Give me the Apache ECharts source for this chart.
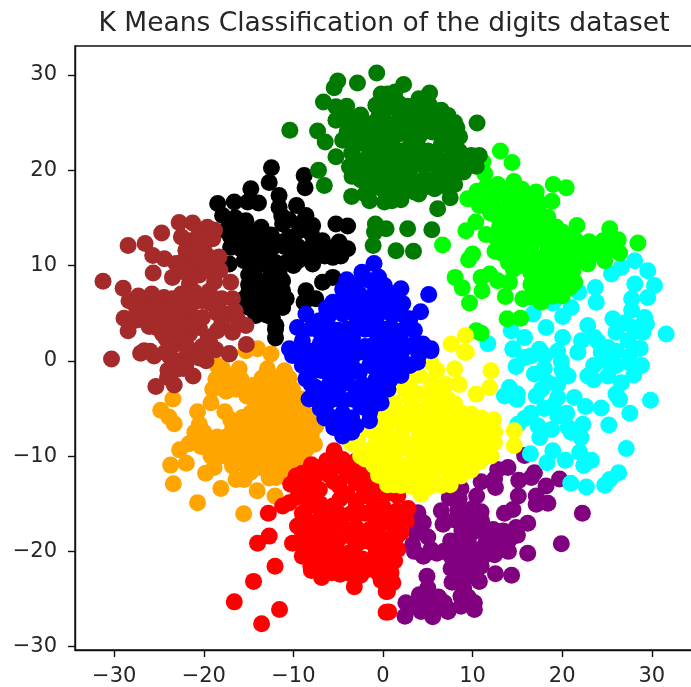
<!DOCTYPE html>
<html>
<head>
<meta charset="utf-8">
<style>html,body{margin:0;padding:0;background:#fff;overflow:hidden}#c{width:691px;height:687px}</style>
<script src="https://cdn.jsdelivr.net/npm/echarts@6/dist/echarts.min.js"></script>
</head>
<body>
<div id="c"></div>
<script>
const chartTitle = "K Means Classification of the digits dataset";
const xTicks = [-30,-20,-10,0,10,20,30];
const yTicks = [-30,-20,-10,0,10,20,30];
const orange = [[-14,1.25],[-12.5,.7],[-15.3,1.05],[-17.9,-.85],[-16.05,-.85],[-12.9,-.85],[-11,-1.05],[-18.65,-1.95],[-16.4,-3],[-14.55,-2.6],[-11.95,-3],[-10.1,-3],[-19.2,-4.4],[-17.65,-5.35],[-20.7,-5.35],[-23.45,-4],[-24.8,-5.2],[-23.9,-5.9],[-23.3,-6.6],[-20.5,-6.65],[-15.7,-5.95],[-14.2,-5.05],[-11.6,-5.05],[-9,-5.05],[-7.5,-6.85],[-9.9,-6.85],[-12.3,-7.2],[-15.5,-7.9],[-16.8,-7.2],[-19.75,-8.2],[-18.3,-9.3],[-16.8,-8.95],[-21.65,-8.7],[-22.7,-9.35],[-23.7,-10.95],[-21.95,-10.75],[-18.85,-11.2],[-19.8,-11.8],[-23.4,-12.9],[-18.1,-13.4],[-16.8,-11.05],[-15.5,-10.85],[-16.4,-12.45],[-15.5,-12.45],[-14.2,-9.8],[-13.65,-11.2],[-11.95,-12.25],[-11.6,-10],[-9.35,-10.3],[-7.65,-8.75],[-10.1,-8.9],[-20.7,-14.9],[-14.05,-13.65],[-12.05,-14.2],[-15.55,-16.05],[-13,-6],[-10.5,-4],[-13.5,-8.5],[-12.5,-9.5],[-10.5,-6],[-17.5,-1.8],[-14.5,-4],[-13,-4],[-13,-3],[-11,-2.5],[-12.5,-5.5],[-10.5,-5.5],[-9,-4],[-13.5,-7],[-11,-7.5],[-8.5,-8],[-14,-8.5],[-12,-8.3],[-9,-9.2],[-10.5,-10.2],[-13,-10.5],[-12.5,-11.5],[-10.8,-11.2],[-17.5,-8],[-20,-7.5],[-17,-6.2],[-15,-6.8],[-19.5,-9.2],[-16.5,-7.8],[-18.5,-.5],[-16.8,-1.7],[-15.8,-2],[-13.5,-1.8],[-12,-1.8],[-10.5,-1.8],[-19,-3],[-17.5,-3.2],[-15.2,-3.7],[-13.7,-3.3],[-11.8,-3.9],[-10,-4.5],[-14.8,-5.5],[-13.5,-5],[-11,-4.3],[-9.5,-5.8],[-8.2,-5.8],[-13.5,-6.2],[-12,-6.3],[-10.8,-6.8],[-9,-7.2],[-15.7,-7],[-14.5,-7.6],[-13,-8],[-10.5,-8],[-9.5,-7.8],[-8,-7.8],[-15,-8.7],[-15.2,-9.5],[-12.5,-8.8],[-11,-9.3],[-8.6,-9.3],[-13.8,-10.6],[-12,-10.8],[-10,-11],[-8.8,-11.2],[-12.7,-12.3],[-10.8,-12.2],[-14.8,-11.7],[-18.5,-8],[-20.7,-8.5],[-19.2,-10],[-17.7,-10],[-16.3,-9.5],[-20.3,-9],[-21,-7.5]];
const black = [[-12.45,20.25],[-12.7,18.7],[-8.8,19.45],[-8.7,18.15],[-14.75,18.05],[-11.6,17.35],[-11.6,16.1],[-18.45,16.5],[-16.6,16.65],[-15.1,16.65],[-13.9,16.55],[-9.65,16.3],[-8.6,15.25],[-7.85,14.2],[-5.25,14.35],[-3.95,14.15],[-17.9,15.25],[-17.55,13.65],[-15.3,14.7],[-13.6,14],[-11.2,14.35],[-9.35,13.65],[-6.75,12.6],[-4.9,12.45],[-3.95,11.75],[-5.6,10.85],[-7.85,10.15],[-17,11.9],[-17.15,10.15],[-14.55,12.25],[-12.35,11.9],[-10.1,11.2],[-14.2,9.8],[-11.6,9.1],[-5.6,8.75],[-6.75,8.25],[-8.6,7.35],[-7.5,6.5],[-8.8,6.15],[-14.95,7.35],[-11.2,7.35],[-13.45,7],[-14.95,5.6],[-11.2,5.6],[-14.2,4.75],[-12.35,4.55],[-11.95,3.7],[-12,2.4],[-13.05,10.15],[-16,13],[-12.5,13],[-8,12],[-6,11.8],[-13,8.3],[-16.5,15],[-17,13],[-15.5,12.5],[-14,13],[-11.8,12.5],[-10.5,13],[-9.5,12],[-8,13.3],[-6.5,11],[-8.8,10.8],[-14.5,10.8],[-12.5,9],[-15,9],[-13,6],[-12,8],[-14,6.5],[-13,4.8],[-15.5,6.5],[-9,14.5],[-14,8.5],[-11.5,6.5],[-5,11.5],[-12.5,13.2],[-13,11],[-16.8,14.3],[-15.8,13.8],[-14.8,13.5],[-13,12.3],[-11,12],[-10.8,10.3],[-13.8,11.3],[-15.5,10.5],[-15.8,11.7],[-12,10.3],[-10,10],[-9.5,10.5],[-7,11.3],[-8,11],[-4.7,11],[-15,8],[-13,7.8],[-12,7],[-13.3,5.6],[-12.5,5.6],[-10.8,6.5],[-12,3.3],[-11.8,6],[-14.7,6.2],[-11.2,8.4],[-14,10],[-16,12.5],[-10.5,14.8],[-11.3,15.2]];
const purple = [[15.8,-9.95],[12.8,-11.4],[13.95,-11.2],[16.9,-11.75],[12.45,-12.4],[10.95,-12.7],[12.55,-13.3],[15.15,-12.55],[16.55,-12.25],[19.7,-12.4],[18.2,-13.15],[10.45,-14.2],[15.1,-14.2],[17.1,-14.2],[18.4,-14.95],[17.1,-15.05],[8.7,-13.4],[7.4,-14.4],[8.35,-15.6],[10.95,-15.85],[14.5,-15.6],[13.55,-16],[22.25,-16],[3.9,-15.95],[6.5,-15.75],[6.7,-17.15],[16.15,-17.05],[14.85,-17.5],[13.4,-17.85],[11.15,-17.85],[9.45,-17],[3.7,-18.05],[7.55,-18.9],[14.1,-18.75],[12.65,-19.45],[19.9,-19.2],[16.15,-20.2],[3.3,-19.3],[5.35,-19.8],[7.6,-20.5],[10.2,-19.8],[12.45,-20.35],[10.95,-21.55],[12.55,-22.35],[14.35,-22.5],[4.9,-22.6],[7.7,-23.25],[9.45,-22.6],[10.75,-23.15],[5,-23.85],[4.05,-24.55],[2.55,-25.4],[8.7,-24.7],[10.2,-25.4],[10.2,-26.1],[2.45,-26.8],[4.25,-26.3],[5.55,-26.85],[5.95,-25.75],[7.25,-26.3],[8.7,-25.75],[6.85,-25.4],[9.3,-18.5],[9.5,-21],[4.5,-17],[8.8,-17.8],[3.5,-17],[5,-18.5],[3.5,-20],[6.8,-20],[9,-19.5],[8.5,-20],[9.5,-18.8],[10,-18],[8.5,-21.5],[10,-21],[11.2,-20.5],[8.5,-23],[9,-23.8],[10.3,-22.5],[7,-25.8],[5,-25.5],[3.5,-25.8],[14,-20],[13,-19],[15,-18.3],[11.5,-19],[9.5,-16],[10,-15.5],[8.5,-14.5],[9.5,-24.8],[6,-20.2],[4.5,-20.5],[8,-16.7],[11,-16.8],[12.3,-17.7],[7.6,-21.8],[6.2,-24.8]];
const cyan = [[11.7,1.8],[28.1,10.5],[29.55,9.45],[25.5,9.1],[26.6,9.8],[30.3,7.9],[28.1,8.05],[29.55,6.65],[27.75,6.5],[23.7,7.7],[21.85,7.2],[23.8,6.15],[18.95,6.05],[16.75,4.9],[21,5.6],[20.05,4.65],[25.65,4.4],[27.75,5.3],[29.2,4.55],[29.4,3.85],[31.6,2.8],[18.2,3.5],[22.85,3.7],[20.05,2.45],[14.3,3.15],[15.8,2.45],[14.5,1.2],[17.45,1.2],[23.6,2.45],[22.15,2.1],[25.1,1.4],[27.35,2.1],[28.45,3.15],[14.85,-.6],[14.5,1.25],[15.8,.35],[18.05,.55],[19.9,-.05],[21.75,.9],[24.35,.9],[28.85,-.5],[26.6,-2.3],[16.9,-1.4],[18.4,-2.3],[20.65,-1.6],[22.85,-1.6],[25.1,-1.6],[29.85,-4.15],[14.1,-2.8],[13.55,-3.7],[14.95,-4.05],[17.1,-3.7],[19.5,-3.85],[21.35,-3.85],[22.6,-4.8],[24.35,-4.95],[26.4,-4.05],[27.55,-5.5],[15.8,-6.05],[15.05,-6.65],[17.3,-6.85],[19.5,-5.8],[22.3,-6.65],[25.2,-6.75],[20.65,-7],[18.8,-7.2],[17.5,-8.05],[22.1,-8.05],[27.15,-9.2],[16.45,-9.75],[18.95,-9.45],[18.3,-10.7],[20.35,-10.45],[21.95,-9.6],[23.25,-10.45],[22.4,-11],[26.3,-11.75],[25.3,-12.45],[24.75,-13.05],[20.95,-12.85],[22.7,-13.25],[19.5,1],[20,-1],[19.5,-2.5],[23.5,-.5],[24.8,0],[26,-.5],[27.5,-.2],[26,1],[27.5,.5],[28,-1.5],[26,-3.5],[18,-.8],[17.7,-3],[19,-4.7],[20.5,-5.5],[21,-7.5],[18,-5],[23.5,-2],[24,2],[27,4],[28,3.5],[26,3],[28.7,1.3],[29,3],[16.5,.5],[15,-3.5],[16.5,-5.5]];
const lime = [[13.1,22],[14.4,20.8],[11.15,20.85],[11.35,19.65],[14.6,18.8],[11.5,18.25],[19,18.5],[20.45,18.15],[17.1,17.7],[18.85,16.75],[9.45,17],[10.75,16.3],[12.65,17.5],[14.3,16.5],[12.85,15.05],[10.35,14.55],[9.25,13.65],[11.5,13.25],[6.65,12.15],[16.15,16.1],[18.4,15.05],[15.45,14],[19.35,14],[21.65,14.2],[25.3,13.85],[21.55,12.6],[24.55,12.6],[26.25,12.7],[28.45,12.35],[26.4,11.3],[23.45,11.2],[22.85,10.15],[24.75,10.5],[13.2,11.3],[15.8,11.55],[18.4,11.9],[20.65,11.2],[10,11.2],[9.55,10.6],[8.05,8.75],[8.85,7.65],[9.65,6.05],[14.55,9.6],[11.9,9.1],[10.95,8.75],[12.8,8.4],[14.1,8.25],[11.05,7.35],[13.65,6.75],[15.6,6.5],[16.9,8.05],[18.4,8.05],[17.65,6.15],[19.15,7],[21.2,9.45],[21.4,8.25],[20.85,7.7],[19.7,8.75],[17.65,9.8],[13.85,4.4],[15.35,4.45],[10.4,3.15],[10.95,2.9],[16.55,13.65],[19.15,12.6],[14,13],[17.5,13],[14.5,15],[17,10.5],[12.5,16],[14,17],[15.5,17],[17.5,16.5],[13,14],[14.5,14.5],[16,15],[17.5,14.8],[19,13],[13.5,12.5],[15,12.5],[16.5,12],[18,12.8],[20,12.5],[14.8,11],[16.2,10.6],[17.8,10.8],[19.5,11],[21,13],[12.5,13],[22,11.5],[16.5,9.2],[18.5,9.5],[20,9.8],[19,6.8],[17,7],[20,7.5],[25,11.5],[12.8,18.5],[10.5,17.8],[13.5,15.5],[15.5,13],[17,14],[18.5,14],[13.8,17.8],[15.5,18],[16,17.5],[12,15.5],[11.7,16.8],[15,16],[16.8,15.7],[13.5,13.7],[15,13.3],[16.5,14.5],[18.2,13.2],[20,13.5],[12.5,11.5],[14.2,11.5],[14,10.3],[15.5,10],[17.5,9],[19,10],[20.5,10.3],[21.8,10.5],[20.8,12],[23,12.5],[23.5,12.2],[16.5,8],[19,8.2],[20,6.8],[18,7],[16.5,6.7]];
const red = [[-5.45,-9.45],[-8,-10.9],[-9.7,-12.1],[-10.3,-12.95],[-7.1,-13.5],[-8.8,-13.15],[-10.45,-14.9],[-11.2,-15.25],[-12.8,-16],[-8.2,-15.25],[-9.55,-17.35],[-12.7,-18.4],[-14,-19.15],[-10.1,-19.15],[-8.3,-20.5],[-8.05,-21.55],[-6.85,-22.75],[-5.75,-22.25],[-12.05,-21.55],[-14.45,-23.15],[-16.6,-25.3],[-11.55,-26.1],[-13.55,-27.6],[-3.2,-23.7],[-.2,-23.05],[.35,-24.2],[.35,-26.4],[-4.5,-10.35],[-2.65,-11.4],[-4.9,-13.15],[-1.5,-13.15],[-5.6,-15.25],[-3,-14.9],[-.05,-15.25],[-7.1,-17.35],[-4.5,-17.35],[-1.5,-17.7],[-6.75,-19.8],[-3.75,-20.15],[-.8,-20.15],[-4.5,-21.9],[-1.7,-21.9],[-3,-21.9],[.7,-13.85],[1.65,-14.2],[2.6,-16.8],[2,-18.05],[1.65,-19.8],[.9,-22.25],[1.1,-23.3],[.5,-24.2],[.65,-26.35],[.55,-15.95],[.55,-19.45],[-6,-12],[-3,-12.8],[-2,-16],[-6,-18.5],[-7.5,-12],[-5.5,-11.2],[-4,-12],[-1,-12],[-7,-16.5],[-8,-18.5],[-5.5,-16.8],[-3.5,-16],[-1,-14],[.8,-17],[-7.5,-20],[-5.5,-20.5],[-2.5,-19],[-.5,-18.5],[1,-18.5],[-7.5,-21.8],[-6,-22],[-2.7,-18],[-5,-18.8],[-3.5,-18.5],[.5,-21],[-1,-21.5],[2.8,-15.5],[-9,-16],[-7,-15],[-4,-14],[-3,-17.5],[0,-16.5],[-6.3,-10.5],[-7,-11.2],[-9,-11.8],[-8,-12.8],[-5.5,-12.7],[-4,-10.8],[-3,-10.5],[-2,-12],[-.5,-13.5],[-9.5,-14.3],[-8.3,-14],[-4.8,-14.5],[-2.2,-14.2],[-1,-15.3],[1.5,-15.8],[-8.8,-16.5],[-8,-17],[-6.5,-15.7],[-5,-16],[-2.8,-16],[-.8,-16.8],[1.5,-17],[-9,-18],[-7.5,-18.3],[-6,-17.5],[-4,-18],[-.5,-17.5],[1.5,-18.5],[-8.7,-19.5],[-7.2,-19.2],[-5.3,-19.5],[-3,-19.3],[-1.5,-19],[.8,-20],[-9,-20.5],[-7,-21],[-5.3,-21.3],[-3.8,-21],[-2.3,-20.8],[-.3,-20.8],[1.3,-21],[-8,-22],[-6.8,-22],[-4.8,-22.4],[-2.5,-22.5],[-.5,-22.3],[-3.5,-22.4],[.8,-23]];
const yellow = [[9.2,2.65],[7.6,1.75],[9.3,.9],[9.1,.9],[5.35,-.2],[8,-.85],[12.05,-1.05],[11.9,-2.8],[10.4,-3.5],[5.35,-2.25],[2.4,-3],[1.25,-4.4],[-.2,-5.8],[3.5,-5.05],[7.25,-4.05],[9.85,-5.6],[12.35,-6.2],[14.65,-7.35],[14.65,-8.9],[12.45,-7.5],[12.05,-10],[10.8,-7.5],[8.35,-6.5],[5.35,-7.55],[2,-7.9],[-.2,-9.6],[.55,-11.75],[2,-13.1],[4.25,-14],[6.5,-13.1],[8.7,-12.1],[9.5,-11.4],[3.5,-10.35],[7.25,-10],[11,-8.6],[12.45,-8.6],[-3.55,-8.65],[-1.5,-7.2],[-1.5,-9.6],[0,-12.1],[-.05,-6.15],[5,-12],[2,-11],[8,-9],[5,-5],[3,-1.5],[6,-1],[4,-3.5],[6,-3.3],[8.5,-2.5],[1.5,-5.8],[3,-6.5],[5,-6],[7,-5.5],[-1,-7.5],[.5,-6.8],[2,-9.2],[3.7,-8.5],[6.5,-7],[8,-7.8],[9.5,-6.8],[.8,-9],[-.5,-8.5],[5.3,-9],[6.8,-8.5],[9,-9],[10.5,-9.5],[11,-6],[1.2,-10.5],[2.8,-12],[5,-10.5],[6.5,-11.2],[8.5,-10.5],[10,-10],[4,-12.8],[7.5,-12.3],[-1,-11],[.5,-13],[-2.5,-10],[4,-1.5],[5,-3.8],[3,-4],[7,-2.5],[2,-5.5],[4,-5.8],[6,-4.8],[8,-4.5],[-.5,-7],[.8,-5.8],[2.3,-7],[4,-7.3],[5.8,-6.3],[7,-6.8],[8.8,-5.5],[-2.8,-8.3],[-1,-9],[.3,-8],[1.5,-8.5],[3,-9.3],[4.5,-8.3],[6,-9],[8,-10.2],[9.7,-8],[10.2,-8.7],[11.5,-7],[11.3,-9.2],[10.8,-10.6],[-2,-10.3],[-.3,-10.5],[1,-11.8],[3,-10.8],[4.3,-10],[6,-10.2],[7.7,-11],[9.8,-11.5],[-.5,-12],[1.2,-13],[3.2,-13.2],[5.2,-13.2],[7.5,-13],[4,-11.5],[5.5,-12],[9,-7.5],[3,-2.8],[.3,-11.2]];
const brown = [[-31.25,8.34],[-28.45,12.1],[-26.55,12.3],[-24.7,13.4],[-22.75,14.5],[-21.25,14.45],[-19.6,14],[-19,12.8],[-18.3,10.9],[-25.65,9.2],[-25.7,11.05],[-24.4,10.7],[-23.5,8.75],[-29,7.6],[-28.35,6.3],[-26.65,6],[-28.9,4.45],[-28.45,3.15],[-26.1,3.6],[-24.45,6.65],[-23.1,5.45],[-25,4.75],[-22,11.6],[-21.25,10.2],[-19.8,9.5],[-21.6,8.05],[-17,8.25],[-16.8,6.5],[-20.15,6.3],[-21.6,5.3],[-20.15,4.55],[-17.55,4.9],[-15.3,3.7],[-18.5,3.15],[-21.6,2.8],[-24.6,2.8],[-26.65,1.05],[-23.1,1.75],[-21.25,.7],[-18.65,1.15],[-17.15,.75],[-15.25,1.7],[-21.65,12.6],[-19.95,11.55],[-23.1,10.2],[-30.3,.18],[-27.05,.8],[-25.55,.5],[-23.85,.5],[-22,.35],[-19.75,0],[-17.15,.7],[-21.2,-1.6],[-24.05,-1.75],[-25.35,-2.7],[-23.3,-2.55],[-20.5,13.5],[-22.5,13],[-19.5,13],[-21,11.8],[-20.5,9],[-18.5,5],[-21,7.2],[-18,6.5],[-22.5,7],[-22,4],[-24,3.8],[-20.5,3.5],[-22.5,2.5],[-19.5,2.5],[-18,3.9],[-23,3.2],[-27.5,5.5],[-25.5,6.5],[-24,5.3],[-27.8,4.2],[-26.5,4.7],[-19.2,10.8],[-21,9.3],[-22.5,10.3],[-20.2,1.5],[-23,0],[-22.3,-.8],[-24,-1],[-20.5,.3],[-26,1],[-20.5,12.9],[-18.8,13.7],[-20.8,11],[-19.8,10],[-22.5,9.5],[-21.5,9],[-18.2,9.5],[-18.8,8.3],[-22,9.2],[-19.4,7.3],[-19.2,6],[-22.5,6],[-21,6.2],[-20.9,4.2],[-23,4.2],[-24.2,2.3],[-23.5,6.5],[-25.5,5.5],[-27,5.5],[-25.3,3.5],[-27.3,4.3],[-16.8,3],[-19.3,1.8],[-21.8,1.4],[-20,.9],[-24.3,.9],[-23,-.9],[-22,-.5],[-16.2,4.3],[-16.5,5.2],[-27.3,6.8],[-25.8,7]];
const green = [[-.7,30.2],[-2.85,29.15],[-5.05,29.35],[-5.45,28.65],[-6.65,27.15],[-4.05,26.7],[-5.25,26.65],[-10.4,24.2],[-7.3,24.1],[-6.45,22.95],[-5.25,25.25],[-3.4,24.55],[-2.45,24.7],[-4.5,23.15],[-5.25,21.4],[-2.65,22.8],[-3.75,20.35],[-7.2,20],[-6.55,18.4],[-3.45,19.35],[-1.5,18.15],[-3.5,17.25],[0,27.15],[-.4,25.95],[-.8,24.55],[-1.5,21.75],[.15,19.65],[.15,16.65],[-.85,14.35],[-.95,13.5],[-1.1,12.1],[2.3,29],[1.35,28.2],[5.2,28.1],[2.75,26.7],[3.7,26.45],[6.5,26.3],[5.2,26.8],[7.25,25.75],[10.5,24.95],[8.25,24.45],[8.55,23.5],[.55,27.35],[.15,25.25],[2,23.85],[3.9,25.25],[6.3,23.85],[7.6,22.45],[3.9,22.45],[.9,22.1],[9.85,21.55],[10.75,21.55],[10.4,20.4],[9.3,20.5],[5.35,20.7],[2,20.35],[7.6,19.45],[4.6,19.1],[1.25,18.6],[3.5,17.7],[5.75,18.05],[.55,17],[7.5,17.1],[6.1,15.95],[.35,13.85],[2.75,13.85],[5.45,13.75],[1.45,11.55],[3.4,11.5],[1.65,21.75],[-1,23],[-1.5,20],[-2.5,25.8],[-4,24],[-3,23],[-2,24],[-1,25],[-3.5,21.8],[-2.5,21],[-1.5,22.5],[-.5,23.5],[-.5,21],[-1,19.5],[-2.5,19],[0,18],[1,20],[1,23],[2,22],[1.5,25],[3,24],[3,21],[3,19],[2,18],[4.5,24],[5,22],[4.5,20.5],[6,21.5],[6.5,19.5],[5.5,19],[7,21],[8,20.5],[8.5,22],[7,24.5],[5,25.5],[2,26],[.5,24],[4,17.5],[2,16.9],[-2,17.5],[6,25],[2.5,18.5],[8,18.5],[1,17],[-.8,26.8],[-.2,28],[.5,28],[4,27.5],[-4,25.5],[-3,25],[-2.2,23],[-3,20.5],[-3.5,22.8],[-.5,22.3],[.3,22.8],[-.2,19.7],[-1.8,20.2],[-.8,18.2],[1,18.6],[.3,21.2],[2,19],[1.8,20.8],[3,20],[3,22.5],[1.2,24],[2.5,25.2],[3,26],[4.5,25.5],[5.5,24],[4,23.5],[4,21.3],[6.2,20.5],[5,18.3],[4.5,18.5],[7,18.3],[7,23],[8.5,21],[9,19.8],[6.5,22.7],[7.5,23.8],[8,25],[.5,26.5],[1.8,27],[4,26.8],[-.8,24],[0,25.3],[1,16.8],[-1.5,16.8],[.8,21.5]];
const blue = [[-1,10.2],[-2.35,9.3],[-4.05,8.5],[-1.5,8.4],[-5.6,6.15],[-2.65,7],[-.05,7.35],[-8.6,4.9],[-9.55,3.5],[-7.1,4.2],[-4.5,4.9],[-1.9,4.55],[-10.45,1.25],[-9,2.1],[-6.35,2.1],[-3.4,2.45],[-.4,2.1],[2,7.55],[5.1,6.95],[4.2,5.15],[.15,7.9],[2,4.9],[.9,3.5],[3.5,1.75],[5.35,1.25],[4.45,1.75],[2,2.1],[-10.1,.55],[-8.6,-1.9],[-8.25,-4],[-6,-5.8],[-4.5,-7.9],[-3,-6.85],[-1.5,-5.4],[-.4,-4.2],[-5.25,-1.9],[-2.65,-1.2],[-6,.2],[-2.65,.9],[-.05,.5],[.35,-2.6],[5.35,1.05],[3.85,-.15],[2,-1.55],[.55,-3],[-.2,-4.4],[1.25,.5],[-7,-3.5],[-3.5,-4],[-7.8,.5],[-7,3],[-5,3.2],[-3,3.8],[-1,3.2],[1,4.8],[1.2,2.2],[-8,1],[-6,1],[-4,1.5],[-2,1.5],[0,1.3],[2,.8],[3,-.5],[-9,-.5],[-7,-1],[-5.5,-.5],[-4,-.6],[-1.5,-.5],[1,-1],[-7.5,-2.8],[-6,-2.5],[-4,-2.3],[-2.3,-2.5],[-.8,-2],[-7,-5],[-5.5,-4],[-4.5,-5.5],[-2.5,-4.8],[-5.5,-7],[-3.5,-6],[-1,-3.5],[-4.5,6.5],[-3.5,5.5],[-1,5.8],[.8,6.3],[-6,4.8],[-.5,8.8],[2.2,6],[3.5,3.2],[1,.5],[-3,8],[-1,7],[-4.5,7.5],[-3.5,6.8],[-2,6],[0,6.7],[1.3,7],[-6.3,5.5],[-5,5.8],[-3,4.8],[-.7,4.6],[.3,5.6],[3,4.4],[-8,3.4],[-6,3.5],[-4,3.3],[-2,3.3],[0,3.3],[2.2,3.2],[-9.3,1.2],[-7,1.8],[-5,1.9],[-3,1.3],[-1,1.7],[1,1.5],[2.8,1.5],[-8.5,.3],[-7,.4],[-5,.3],[-3.5,.2],[-1.5,.5],[.2,-.2],[2.5,-.3],[4,.6],[-7.8,-1],[-6.3,-1.2],[-4.5,-1.2],[-3.2,-.9],[-.5,-1.1],[1.5,-.5],[2,-.8],[-8,-2.5],[-6.5,-3.8],[-5,-3],[-3,-3],[-1.5,-3],[.8,-2],[-6.3,-4.5],[-4.5,-4.2],[-2.2,-3.8],[-.8,-4.5],[-6.5,-6],[-5,-6.3],[-1.5,-6.3],[-4,-7.5],[-3.5,-7.5]];

const clusters = [
  ["orange", "#ffa500", orange],
  ["black", "#000000", black],
  ["purple", "#800080", purple],
  ["cyan", "#00ffff", cyan],
  ["lime", "#00ff00", lime],
  ["red", "#ff0000", red],
  ["yellow", "#ffff00", yellow],
  ["brown", "#a52a2a", brown],
  ["green", "#007a00", green],
  ["blue", "#0000ff", blue]
];
const fmt = v => String(v).replace("-", "\u2212");
function axis(min, max, ticks, margin) {
  return {
    type: "value", min, max, splitLine: {show: false},
    axisLine: {show: true, onZero: false, lineStyle: {color: "#111", width: 1.4}},
    axisTick: {show: true, length: 7, customValues: ticks, lineStyle: {color: "#111", width: 1.4}},
    axisLabel: {customValues: ticks, formatter: fmt, color: "#262626", fontSize: 21, margin, fontFamily: "DejaVu Sans"}
  };
}
const chart = echarts.init(document.getElementById("c"), null, {renderer: "canvas"});
chart.setOption({
  animation: false,
  backgroundColor: "#fff",
  title: {text: chartTitle, left: 379, top: 6, textAlign: "center",
    textStyle: {fontFamily: "DejaVu Sans", fontSize: 26.5, fontWeight: "normal", color: "#262626"}},
  grid: {show: true, left: 75, top: 46, width: 620, height: 604, borderColor: "#111", borderWidth: 1.4, containLabel: false, outerBoundsMode: "none"},
  xAxis: axis(-34.375, 34.82, xTicks, 16),
  yAxis: axis(-30.35, 33.03, yTicks, 18),
  series: clusters.map(([name, color, data]) => ({
    name, type: "scatter", data, symbol: "circle", symbolSize: 17, itemStyle: {color, opacity: 1}
  }))
});
</script>
</body>
</html>
